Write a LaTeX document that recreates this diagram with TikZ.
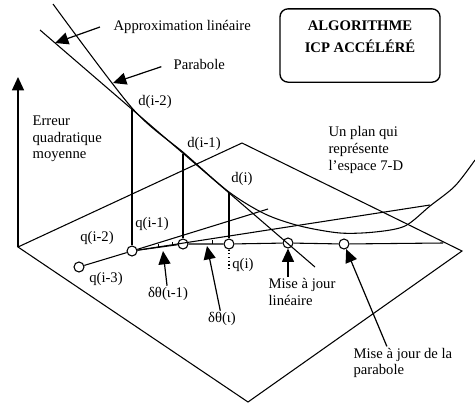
\documentclass[tikz,border=0pt]{standalone}
\usepackage{fontspec}
\setmainfont{Liberation Serif}
\usepackage{tikz}
\usetikzlibrary{arrows.meta, positioning}

\begin{document}
\begin{tikzpicture}[
  x=0.75pt, y=-0.75pt,
  every node/.style={font=\fontsize{11}{12.5}\selectfont, inner sep=1pt},
  txt/.style={align=left, anchor=west},
  qpt/.style={circle, draw, line width=0.8pt, inner sep=0pt, minimum size=7.5pt},
  wire/.style={line width=0.8pt},
  drop/.style={line width=1.1pt},
  pointer/.style={-{Triangle[length=10pt, width=9pt]}, line width=0.9pt},
  titlebox/.style={draw, line width=1pt, rounded corners=6pt,
    minimum width=120pt, minimum height=55pt}
]
  \useasboundingbox (0,0) rectangle (475,404);

  \coordinate (pl) at (18,247);
  \coordinate (pt) at (242,143);
  \coordinate (pr) at (462,251);
  \coordinate (pb) at (248,402);
  \coordinate (axtip) at (18,77);
  \draw[wire] (pl) -- (pt) -- (pr) -- (pb) -- cycle;
  \draw[pointer, line width=1pt] (pl) -- (axtip);

  \node[qpt] (c1) at (79,267) {};
  \node[qpt] (c2) at (132,251) {};
  \node[qpt] (c3) at (183,244) {};
  \node[qpt] (c4) at (229,244) {};
  \node[qpt] (c5) at (288,243) {};
  \node[qpt] (c6) at (344,244) {};
  \coordinate (qend) at (443,243);
  \coordinate (uend) at (268,209);
  \coordinate (lend) at (430,205);
  \coordinate (qdot) at (229,271);

  \draw[wire] (c1) -- (c2) -- (c3) -- (c4) -- (c5) -- (c6) -- (qend);
  \draw[wire] (c2) -- (uend);
  \draw[wire] (c2) -- (lend);
  \draw[dotted, line width=0.8pt] (c4) -- (qdot);
  \foreach \tx/\ty in {158/248, 172/246, 212/244}
    \draw[line width=0.6pt] (\tx,\ty) -- ++(0,-4);

  \coordinate (lin0) at (40,30);
  \coordinate (lin1) at (315,267);
  \draw[wire] (lin0) -- (lin1);
  \draw[wire] plot[smooth] coordinates {(53,4) (132,108) (184,153) (229,192)
    (265,214) (300,226) (340,233) (375,232) (405,226) (430,206) (455,186) (475,160)};

  \coordinate (d2) at (132,108);
  \coordinate (d1) at (183,154);
  \coordinate (d0) at (229,193);
  \draw[drop] (d2) -- (c2);
  \draw[drop] (d1) -- (c3);
  \draw[drop] (d0) -- (c4);

  \node (dm2) at (155,102) {d(i-2)};
  \node (dm1) at (204,144) {d(i-1)};
  \node (dm0) at (242,179) {d(i)};
  \node (qm3) at (106,279) {q(i-3)};
  \node (qm2) at (97,238) {q(i-2)};
  \node (qm1) at (152,224) {q(i-1)};
  \node (qm0) at (243,265) {q(i)};
  \node (dt1) at (168,294) {δθ(ι-1)};
  \node (dt0) at (222,319) {δθ(ι)};
  \node[txt] (mjl) at (267,292) {Mise à jour\\linéaire};
  \node[txt] (mjp) at (352,363) {Mise à jour de la\\parabole};
  \node[txt] (plan) at (327,150) {Un plan qui\\représente\\l’espace 7-D};
  \node[txt] (err) at (31,139) {Erreur\\quadratique\\moyenne};
  \node[txt] (approx) at (112,27) {Approximation linéaire};
  \node[txt] (parab) at (172,64) {Parabole};

  \node[titlebox] (algo) at (360,45.5) {};
  \node[font=\bfseries\fontsize{11}{12.5}\selectfont, align=center] (algotitle)
    at (360,37) {ALGORITHME\\[4pt]ICP ACCÉLÉRÉ};

  \coordinate (lintip) at (55,43);
  \coordinate (partip) at (113,83);
  \coordinate (dt1tip) at (163,251);
  \coordinate (dt0tip) at (207,246);
  \draw[pointer] ([xshift=-9pt]approx.west) -- (lintip);
  \draw[pointer] ([xshift=-8pt, yshift=-2pt]parab.west) -- (partip);
  \draw[pointer] (dt1) -- (dt1tip);
  \draw[pointer] (dt0) -- (dt0tip);
  \draw[pointer] (mjl.north -| c5) -- (c5);
  \draw[pointer] ([xshift=-12pt]mjp.north) -- (c6);
\end{tikzpicture}
\end{document}
